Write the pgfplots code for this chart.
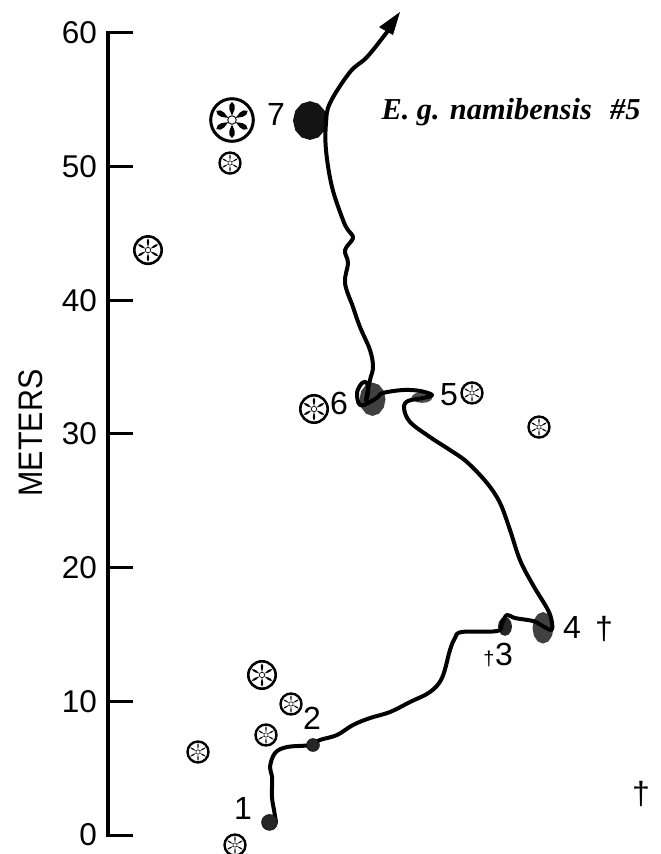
\documentclass[border=0pt]{standalone}
\usepackage{fontspec}
\setmainfont{Liberation Sans}
\newfontfamily\titlefont{Liberation Serif}
\usepackage{graphicx}
\usepackage{pgfplots}
\pgfplotsset{compat=1.18}
\newcommand{\wheelmark}[3]{% name, spoke half-width factor, hub line
\pgfdeclareplotmark{#1}{%
  \pgfscope
  \pgfpathcircle{\pgfpointorigin}{\pgfplotmarksize}
  \pgfusepathqstroke
  \foreach \a in {30,90,150,210,270,330}{%
    \pgfscope
    \pgftransformrotate{\a}%
    \pgfpathmoveto{\pgfqpoint{0.2\pgfplotmarksize}{0pt}}
    \pgfpathlineto{\pgfqpoint{0.5\pgfplotmarksize}{#2\pgfplotmarksize}}
    \pgfpathlineto{\pgfqpoint{0.7\pgfplotmarksize}{#2\pgfplotmarksize}}
    \pgfpathlineto{\pgfqpoint{0.85\pgfplotmarksize}{0pt}}
    \pgfpathlineto{\pgfqpoint{0.7\pgfplotmarksize}{-#2\pgfplotmarksize}}
    \pgfpathlineto{\pgfqpoint{0.5\pgfplotmarksize}{-#2\pgfplotmarksize}}
    \pgfpathclose
    \pgfusepathqfill
    \endpgfscope
  }%
  \pgfsetlinewidth{#3}
  \pgfpathcircle{\pgfpointorigin}{0.2\pgfplotmarksize}
  \pgfsetfillcolor{white}
  \pgfusepathqfillstroke
  \endpgfscope
}}
\wheelmark{wheelL}{0.12}{0.9pt}
\wheelmark{wheelM}{0.075}{0.7pt}
\wheelmark{wheelS}{0.055}{0.5pt}
\begin{document}
\begin{tikzpicture}[x=1pt,y=1pt]
\useasboundingbox (-108,-19) rectangle (553,835);
\begin{axis}[
  anchor=origin, at={(0,0)},
  scale only axis, width=553pt, height=802pt,
  xmin=108, xmax=661, ymin=0, ymax=60,
  clip=false,
  axis y line=left, axis x line=none,
  axis line style={-, line width=3.6pt, line cap=rect},
  ytick={0,10,20,30,40,50,60},
  tick align=inside,
  major tick length=25pt,
  ytick style={line width=3pt, black},
  yticklabel style={font=\fontsize{31.5}{32}\selectfont, inner sep=0pt, xshift=-11pt, /pgf/number format/assume math mode=true},
  mark options={solid},
]
% blobs
\addplot[draw=none, fill=black!92] coordinates {(327,53.45)(324.7,54.18)(318.5,54.71)(310,54.9)(301.5,54.71)(295.3,54.18)(293,53.45)(295.3,52.72)(301.5,52.19)(310,52.0)(318.5,52.19)(324.7,52.72)} -- cycle;
\addplot[draw=none, fill=black!75] coordinates {(385.5,32.6)(383.8,33.22)(379,33.68)(372.5,33.85)(366,33.68)(361.2,33.22)(359.5,32.6)(361.2,31.98)(366,31.52)(372.5,31.35)(379,31.52)(383.8,31.98)} -- cycle;
\addplot[draw=none, fill=black!70] coordinates {(432.5,32.73)(431.1,32.93)(427.3,33.08)(422,33.13)(416.8,33.08)(412.9,32.93)(411.5,32.73)(412.9,32.53)(416.8,32.38)(422,32.33)(427.3,32.38)(431.1,32.53)} -- cycle;
\addplot[draw=none, fill=black!75] coordinates {(553.5,15.5)(552.1,16.09)(548.3,16.52)(543,16.68)(537.8,16.52)(533.9,16.09)(532.5,15.5)(533.9,14.91)(537.8,14.48)(543,14.32)(548.3,14.48)(552.1,14.91)} -- cycle;
\addplot[draw=none, fill=black!85] coordinates {(512,15.6)(511.1,15.95)(508.5,16.21)(505,16.3)(501.5,16.21)(498.9,15.95)(498,15.6)(498.9,15.25)(501.5,14.99)(505,14.9)(508.5,14.99)(511.1,15.25)} -- cycle;
\addplot[only marks, mark=*, mark size=6.5pt, mark options={fill=black!85, draw=none}] coordinates {(313,6.73)};
\addplot[only marks, mark=*, mark size=8pt, mark options={fill=black!85, draw=none}] coordinates {(269.5,0.94)};
% trail
\addplot[black, line width=4pt, smooth, tension=0.6, line cap=round, line join=round] coordinates {
(276,0.97)(274,1.87)(272,2.84)(272,4.34)(270,5.09)(275,6.13)(287,6.58)(310,6.73)(320,7.11)(337,7.48)(353,8.23)(370,8.75)(390,9.20)(410,9.95)(430,10.70)(442,11.75)(450,13.84)(455,14.74)(462,15.19)(497,15.26)(502,15.86)(507,16.46)(515,16.23)(533,16.01)(541,15.71)(551,15.34)(552,15.86)(548,16.83)(533,18.70)(520,20.57)(510,22.82)(500,24.84)(487,26.33)(467,27.90)(450,28.80)(430,29.77)(410,30.90)(404,31.94)(408,32.47)(423,32.69)(432,32.92)(420,33.22)(403,33.29)(383,33.07)(378,32.77)(370,32.39)(360,32.17)(357,33.07)(362,33.81)(367,33.81)(368,33.07)(366,32.54)(370,34.04)(373,35.01)(370,36.28)(360,38.00)(353,39.50)(345,41.29)(348,42.79)(345,43.76)(353,44.66)(348,45.26)(343,46.01)(332,48.48)(326,51.24)(326,53.26)(330,54.76)(350,57.08)(367,58.20)(387,60.07)(390,60.37)};
% arrow head
\addplot[draw=none, fill=black] coordinates {(400,61.57)(379,60.44)(393,59.85)} -- cycle;
% wheels
\addplot[only marks, mark=wheelL, mark size=21.3pt, mark options={line width=3pt, fill=black}] coordinates {(232,53.49)};
\addplot[only marks, mark=wheelM, mark size=13.7pt, mark options={line width=2.6pt, fill=black}] coordinates {(148,43.76)(314,31.87)(262,11.97)};
\addplot[only marks, mark=wheelS, mark size=10.5pt, mark options={line width=2.4pt, fill=black}] coordinates {(230,50.27)(472,33.07)(539,30.52)(291,9.80)(266,7.48)(198,6.21)(235,-0.75)};
% labels
\node[inner sep=0pt, rotate=90, font=\fontsize{34}{34}\selectfont] at (axis cs:30.5,30.07) {\scalebox{0.895}[1]{METERS}};
\node[font=\fontsize{32}{32}\selectfont] at (axis cs:276,53.94) {7};
\node[font=\fontsize{32}{32}\selectfont] at (axis cs:339,32.32) {6};
\node[font=\fontsize{32}{32}\selectfont] at (axis cs:449,32.92) {5};
\node[font=\fontsize{32}{32}\selectfont] at (axis cs:572,15.56) {4};
\node[font=\fontsize{32}{32}\selectfont] at (axis cs:504,13.54) {3};
\node[font=\fontsize{32}{32}\selectfont] at (axis cs:312,8.75) {2};
\node[font=\fontsize{32}{32}\selectfont] at (axis cs:243,2.02) {1};
\node[font=\fontsize{32}{32}\selectfont] at (axis cs:604,15.4) {†};
\node[font=\fontsize{32}{32}\selectfont] at (axis cs:641,3.1) {†};
\node[font=\fontsize{20}{20}\selectfont] at (axis cs:489,13.2) {†};
\node[font=\fontsize{30.4}{31}\selectfont\titlefont\bfseries\itshape] at (axis cs:511,54.08) {E. g. namibensis\hspace{0.6em}\#5};
\end{axis}
\end{tikzpicture}
\end{document}
